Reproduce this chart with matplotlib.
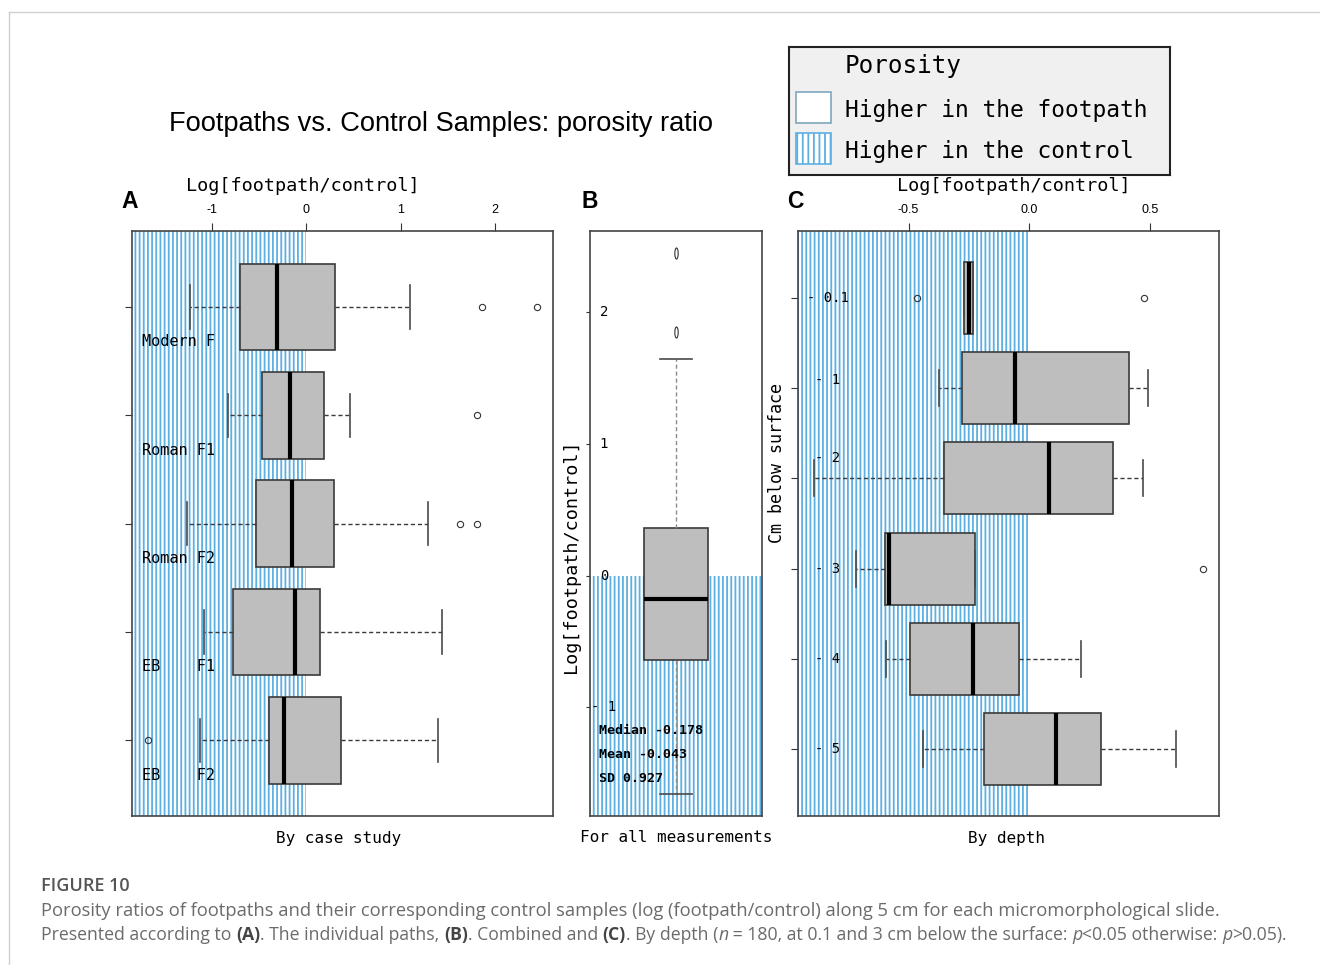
import matplotlib
matplotlib.use('Agg')
import matplotlib.pyplot as plt
from matplotlib.patches import Rectangle
from matplotlib.lines import Line2D
from matplotlib.markers import MarkerStyle
from matplotlib.transforms import offset_copy, Affine2D, blended_transform_factory

plt.rcParams['axes.unicode_minus'] = False
plt.rcParams['hatch.linewidth'] = 1.3

W, H = 1320, 965
MONO = 'DejaVu Sans Mono'
SANS = 'Liberation Sans'
HATCH = '#5cb0e2'

# A: log ratio by case study
case_names = ['Modern F', 'Roman F1', 'Roman F2', 'EB    F1', 'EB    F2']
case_whislo = [-1.23, -0.83, -1.26, -1.08, -1.12]
case_q1 = [-0.70, -0.47, -0.53, -0.78, -0.39]
case_med = [-0.31, -0.17, -0.15, -0.12, -0.23]
case_q3 = [0.31, 0.19, 0.30, 0.15, 0.37]
case_whishi = [1.10, 0.46, 1.29, 1.44, 1.40]
case_fliers = [[1.86, 2.45], [1.81], [1.63, 1.81], [], [-1.68]]

# B: all measurements pooled
all_whislo = -1.66
all_q1 = -0.64
all_med = -0.178
all_q3 = 0.36
all_whishi = 1.64
all_fliers = [1.85, 2.45]
all_mean = -0.043
all_sd = 0.927
all_ticks = [2, 1, 0, -1]
all_ticklabels = ['2', '1', '0', '- 1']

# C: log ratio by depth (cm)
depth_labels = ['- 0.1', '- 1', '- 2', '- 3', '- 4', '- 5']
depth_whislo = [-0.27, -0.372, -0.893, -0.719, -0.593, -0.440]
depth_q1 = [-0.27, -0.277, -0.351, -0.599, -0.495, -0.188]
depth_med = [-0.25, -0.061, 0.082, -0.581, -0.234, 0.111]
depth_q3 = [-0.234, 0.412, 0.346, -0.225, -0.043, 0.299]
depth_whishi = [-0.234, 0.493, 0.472, -0.225, 0.214, 0.609]
depth_fliers = [[-0.463, 0.473], [], [], [0.721], [], []]
depth_label_lift = [0, 8, 20, 0, 0, 0]


def r_range(vals):
    lo, hi = min(vals), max(vals)
    pad = 0.04 * (hi - lo)
    return lo - pad, hi + pad


def make_stats(lo, q1, med, q3, hi, fl):
    return [dict(whislo=a, q1=b, med=c, q3=d, whishi=e, fliers=f)
            for a, b, c, d, e, f in zip(lo, q1, med, q3, hi, fl)]


def all_values(stats):
    out = []
    for s in stats:
        out += [s['whislo'], s['whishi']] + list(s['fliers'])
    return out


fig = plt.figure(figsize=(W / 100, H / 100), dpi=100)


def px_axes(l, t, r, b):
    return fig.add_axes([l / W, 1 - b / H, (r - l) / W, (b - t) / H])


def style_frame(ax):
    for s in ax.spines.values():
        s.set_color('#444444')
        s.set_linewidth(1.2)


def boxes(ax, stats, positions, width, orient, whisker_color='#3a3a3a', flier_marker='o', flier_size=4.5):
    ax.bxp(stats, positions=positions, widths=width, capwidths=width / 2,
           orientation=orient, patch_artist=True, manage_ticks=False, zorder=3,
           boxprops=dict(facecolor='#bebebe', edgecolor='#3a3a3a', linewidth=1.2),
           medianprops=dict(color='black', linewidth=3, solid_capstyle='butt'),
           whiskerprops=dict(color=whisker_color, linewidth=1, linestyle=(0, (3, 2))),
           capprops=dict(color='#4a4a4a', linewidth=1.2),
           flierprops=dict(marker=flier_marker, markersize=flier_size, markerfacecolor='none',
                           markeredgecolor='#333333', markeredgewidth=0.8))


def top_axis(ax, ticks, labels, label_x):
    ax.xaxis.tick_top()
    ax.set_xticks(ticks)
    ax.set_xticklabels(labels)
    ax.tick_params(axis='x', direction='out', length=6, width=0.8, color='#333333',
                   labelsize=9, pad=5, labelfontfamily=SANS)
    ax.text(label_x, 1.0, 'Log[footpath/control]', transform=offset_copy(ax.transAxes, fig=fig, y=45, units='dots'),
            ha='center', va='center', family=MONO, fontsize=13.3)


# ---------------- A ----------------
axA = px_axes(132, 231, 553, 816)
statsA = make_stats(case_whislo, case_q1, case_med, case_q3, case_whishi, case_fliers)
rowsA = list(range(1, len(statsA) + 1))
xlimA = r_range(all_values(statsA))
axA.set_xlim(xlimA)
axA.set_ylim(len(rowsA) + 0.7, 0.3)
axA.axvspan(xlimA[0], 0, facecolor='none', edgecolor=HATCH, hatch='||||', linewidth=0, zorder=0)
boxes(axA, statsA, rowsA, 0.8, 'horizontal')
top_axis(axA, [-1, 0, 1, 2], ['-1', '0', '1', '2'], 0.406)
axA.set_yticks(rowsA)
axA.set_yticklabels([])
axA.tick_params(axis='y', direction='out', length=5, width=0.8, color='#333333')
lab_tr = offset_copy(blended_transform_factory(axA.transAxes, axA.transData), fig=fig, y=-35, units='dots')
for r, name in zip(rowsA, case_names):
    axA.text(0.024, r, name, transform=lab_tr, ha='left', va='center', family=MONO, fontsize=11, zorder=4)
axA.text(0.49, 0, 'By case study', transform=offset_copy(axA.transAxes, fig=fig, y=-22, units='dots'),
         ha='center', va='center', family=MONO, fontsize=11.5)
style_frame(axA)

# ---------------- B ----------------
axB = px_axes(590, 231, 762, 816)
statsB = make_stats([all_whislo], [all_q1], [all_med], [all_q3], [all_whishi], [all_fliers])
ylimB = r_range(all_values(statsB))
axB.set_ylim(ylimB)
axB.set_xlim(0.46, 1.54)
axB.axhspan(ylimB[0], 0, facecolor='none', edgecolor=HATCH, hatch='||||', linewidth=0, zorder=0)
thin_o = MarkerStyle('o', transform=Affine2D().scale(0.3, 1.0))
boxes(axB, statsB, [1], 0.4, 'vertical', whisker_color='#8c8c8c', flier_marker=thin_o, flier_size=8)
axB.set_xticks([])
axB.set_yticks(all_ticks)
axB.set_yticklabels([])
axB.tick_params(axis='y', direction='out', length=3, width=0.8, color='#333333')
tick_tr = blended_transform_factory(axB.transAxes, axB.transData)
for v, s in zip(all_ticks, all_ticklabels):
    axB.text(0.081, v, s, transform=tick_tr, ha='center', va='center', family=MONO, fontsize=10, zorder=4)
summary = ['Median %.3f' % all_med, 'Mean %.3f' % all_mean, 'SD %.3f' % all_sd]
for i, s in enumerate(summary):
    axB.text(0.055, 0.146 - i * 0.041, s, transform=axB.transAxes, ha='left', va='center',
             family=MONO, fontsize=9.5, fontweight='bold', zorder=4)
axB.text(-0.11, 0.444, 'Log[footpath/control]', transform=axB.transAxes, rotation=90,
         ha='center', va='center', family=MONO, fontsize=13.3)
axB.text(0.5, 0, 'For all measurements', transform=offset_copy(axB.transAxes, fig=fig, y=-22, units='dots'),
         ha='center', va='center', family=MONO, fontsize=11.5)
style_frame(axB)

# ---------------- C ----------------
axC = px_axes(798, 231, 1219, 816)
statsC = make_stats(depth_whislo, depth_q1, depth_med, depth_q3, depth_whishi, depth_fliers)
rowsC = list(range(1, len(statsC) + 1))
xlimC = r_range(all_values(statsC))
axC.set_xlim(xlimC)
axC.set_ylim(len(rowsC) + 0.74, 0.26)
axC.axvspan(xlimC[0], 0, facecolor='none', edgecolor=HATCH, hatch='||||', linewidth=0, zorder=0)
boxes(axC, statsC, rowsC, 0.8, 'horizontal')
top_axis(axC, [-0.5, 0.0, 0.5], ['-0.5', '0.0', '0.5'], 0.513)
axC.set_yticks(rowsC)
axC.set_yticklabels([])
axC.tick_params(axis='y', direction='out', length=5, width=0.8, color='#333333')
for r, s, lift in zip(rowsC, depth_labels, depth_label_lift):
    tr = offset_copy(blended_transform_factory(axC.transAxes, axC.transData), fig=fig, y=lift, units='dots')
    axC.text(0.071, r, s, transform=tr, ha='center', va='center', family=MONO, fontsize=10, zorder=4)
axC.text(-0.05, 0.603, 'Cm below surface', transform=axC.transAxes, rotation=90,
         ha='center', va='center', family=MONO, fontsize=12)
axC.text(0.495, 0, 'By depth', transform=offset_copy(axC.transAxes, fig=fig, y=-22, units='dots'),
         ha='center', va='center', family=MONO, fontsize=11.5)
style_frame(axC)

# ---------------- titles / panel letters ----------------
fig.text(441 / W, 1 - 124 / H, 'Footpaths vs. Control Samples: porosity ratio',
         ha='center', va='center', family=SANS, fontsize=19.6)
for letter, x in zip('ABC', [130, 590, 795]):
    fig.text(x / W, 1 - 202 / H, letter, ha='center', va='center', family=SANS,
             fontsize=16.5, fontweight='bold')

# ---------------- key ----------------
leg = px_axes(789, 47, 1170, 175)
leg.set_xlim(0, 1)
leg.set_ylim(0, 1)
leg.set_xticks([])
leg.set_yticks([])
leg.set_facecolor('#f0f0f0')
for s in leg.spines.values():
    s.set_color('#222222')
    s.set_linewidth(1.5)
leg.add_patch(Rectangle((0.018, 0.406), 0.092, 0.242, facecolor='white', edgecolor='#7fa6bf', lw=1.2))
leg.add_patch(Rectangle((0.018, 0.086), 0.092, 0.242, facecolor='white', edgecolor=HATCH, hatch='|||', lw=1.2))
leg.text(0.147, 0.852, 'Porosity', ha='left', va='center', family=MONO, fontsize=17.5)
leg.text(0.147, 0.500, 'Higher in the footpath', ha='left', va='center', family=MONO, fontsize=16.5)
leg.text(0.147, 0.180, 'Higher in the control', ha='left', va='center', family=MONO, fontsize=16.5)

# ---------------- page frame + caption ----------------
fig.add_artist(Line2D([9 / W, 1], [1 - 12 / H, 1 - 12 / H], transform=fig.transFigure, color='#d0d0d0', lw=1))
fig.add_artist(Line2D([9 / W, 9 / W], [0, 1 - 12 / H], transform=fig.transFigure, color='#d0d0d0', lw=1))

CAP = 'Open Sans'
CAPC = '#6b6b6b'
fig.text(41 / W, 1 - 886 / H, 'FIGURE 10', ha='left', va='center', family=CAP, fontsize=13,
         fontweight='semibold', color='#555555')

renderer = fig.canvas.get_renderer()


def run_width(s, **kw):
    t1 = fig.text(0, 0, 'x' + s + 'x', **kw)
    t2 = fig.text(0, 0, 'xx', **kw)
    w = t1.get_window_extent(renderer).width - t2.get_window_extent(renderer).width
    t1.remove()
    t2.remove()
    return w


def draw_runs(x, y, runs, size):
    for s, style in runs:
        kw = dict(family=CAP, fontsize=size, color=CAPC)
        if style == 'b':
            kw['fontweight'] = 'bold'
            kw['color'] = '#444444'
        elif style == 'i':
            kw['fontstyle'] = 'italic'
        fig.text(x / W, 1 - y / H, s, ha='left', va='center', **kw)
        x += run_width(s, **kw)


draw_runs(41, 911, [('Porosity ratios of footpaths and their corresponding control samples (log (footpath/control) '
                     'along 5 cm for each micromorphological slide.', '')], 13.2)
draw_runs(41, 935, [('Presented according to ', ''), ('(A)', 'b'), ('. The individual paths, ', ''),
                    ('(B)', 'b'), ('. Combined and ', ''), ('(C)', 'b'), ('. By depth (', ''), ('n', 'i'),
                    (' = 180, at 0.1 and 3 cm below the surface: ', ''), ('p', 'i'),
                    ('<0.05 otherwise: ', ''), ('p', 'i'), ('>0.05).', '')], 12.7)

fig.savefig('out.png', dpi=100)
